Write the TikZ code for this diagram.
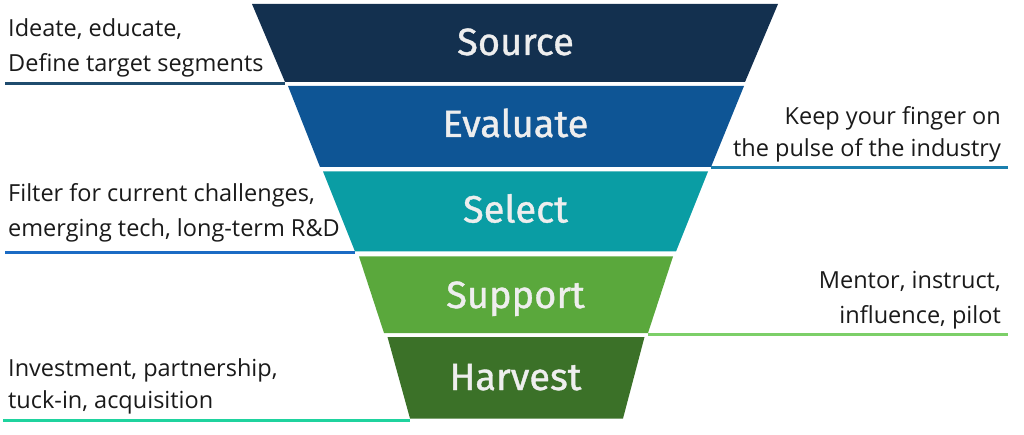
\documentclass[tikz,border=0pt]{standalone}
\usepackage{fontspec}
\setmainfont{Open Sans}
\newfontfamily\titlefont{Fira Sans}[FakeBold=1]
\definecolor{cSource}{HTML}{13304F}
\definecolor{cEval}{HTML}{0E5595}
\definecolor{cSelect}{HTML}{0A9DA4}
\definecolor{cSupport}{HTML}{5AA83C}
\definecolor{cHarvest}{HTML}{3B7128}
\definecolor{lOne}{HTML}{1F4C6E}
\definecolor{lTwo}{HTML}{1B7FAE}
\definecolor{lThree}{HTML}{1B6BC4}
\definecolor{lFour}{HTML}{7CCF68}
\definecolor{lFive}{HTML}{1FD39E}
\definecolor{txt}{HTML}{1A1A1A}
\definecolor{ttl}{HTML}{EEEEEE}
\tikzset{
  title/.style={text=ttl, font=\titlefont\fontsize{38}{40}\selectfont, inner sep=0pt, anchor=base},
  lefttxt/.style={text=txt, font=\fontsize{23.5}{35}\selectfont, inner sep=0pt, anchor=base west},
  righttxt/.style={text=txt, font=\fontsize{23.5}{35}\selectfont, inner sep=0pt, anchor=base east},
  leader/.style={line width=3pt}
}
\begin{document}
\begin{tikzpicture}[x=1pt,y=-1pt]
\useasboundingbox (0,0) rectangle (1024,435);
% band corners
\coordinate (s1) at (252,4);   \coordinate (s2) at (778,4);
\coordinate (s3) at (745,82);  \coordinate (s4) at (285,82);
\coordinate (e1) at (288,86);  \coordinate (e2) at (744,86);
\coordinate (e3) at (711,167); \coordinate (e4) at (320,167);
\coordinate (c1) at (323,171.5); \coordinate (c2) at (708,171.5);
\coordinate (c3) at (676,251.5); \coordinate (c4) at (355,251.5);
\coordinate (p1) at (359,256.5); \coordinate (p2) at (673,256.5);
\coordinate (p3) at (648,333);   \coordinate (p4) at (384,333);
\coordinate (h1) at (387.5,337); \coordinate (h2) at (644.5,337);
\coordinate (h3) at (623,418.5); \coordinate (h4) at (410,418.5);
% bands
\fill[cSource]  (s1) -- (s2) -- (s3) -- (s4) -- cycle;
\fill[cEval]    (e1) -- (e2) -- (e3) -- (e4) -- cycle;
\fill[cSelect]  (c1) -- (c2) -- (c3) -- (c4) -- cycle;
\fill[cSupport] (p1) -- (p2) -- (p3) -- (p4) -- cycle;
\fill[cHarvest] (h1) -- (h2) -- (h3) -- (h4) -- cycle;
% titles
\node[title] (tS) at (515.5,55) {Source};
\node[title] (tE) at (515.5,137) {Evaluate};
\node[title] (tC) at (515.5,222.5) {Select};
\node[title] (tP) at (515.5,308) {Support};
\node[title] (tH) at (515.5,390) {Harvest};
% leader end points
\coordinate (l1a) at (5,84);    \coordinate (l1b) at (285,84);
\coordinate (l2a) at (711,168); \coordinate (l2b) at (1008,168);
\coordinate (l3a) at (5,252.5); \coordinate (l3b) at (355,252.5);
\coordinate (l4a) at (648,334.5); \coordinate (l4b) at (1008,334.5);
\coordinate (l5a) at (3,420);   \coordinate (l5b) at (410,420);
\draw[leader, lOne]   (l1a) -- (l1b);
\draw[leader, lTwo]   (l2a) -- (l2b);
\draw[leader, lThree] (l3a) -- (l3b);
\draw[leader, lFour]  (l4a) -- (l4b);
\draw[leader, lFive]  (l5a) -- (l5b);
% texts
\node[lefttxt] (a1) at (8,36.5) {Ideate, educate,};
\node[lefttxt] (a2) at (8,71.5) {Define target segments};
\node[righttxt] (b1) at (1001,124.5) {Keep your finger on};
\node[righttxt] (b2) at (1001,156.5) {the pulse of the industry};
\node[lefttxt] (c1t) at (8,201.5) {Filter for current challenges,};
\node[lefttxt] (c2t) at (8,236.5) {emerging tech, long-term R\&D};
\node[righttxt] (d1) at (1001,288.5) {Mentor, instruct,};
\node[righttxt] (d2) at (1001,323.5) {influence, pilot};
\node[lefttxt] (f1) at (8,376.5) {Investment, partnership,};
\node[lefttxt] (f2) at (8,408.5) {tuck-in, acquisition};
\end{tikzpicture}
\end{document}
